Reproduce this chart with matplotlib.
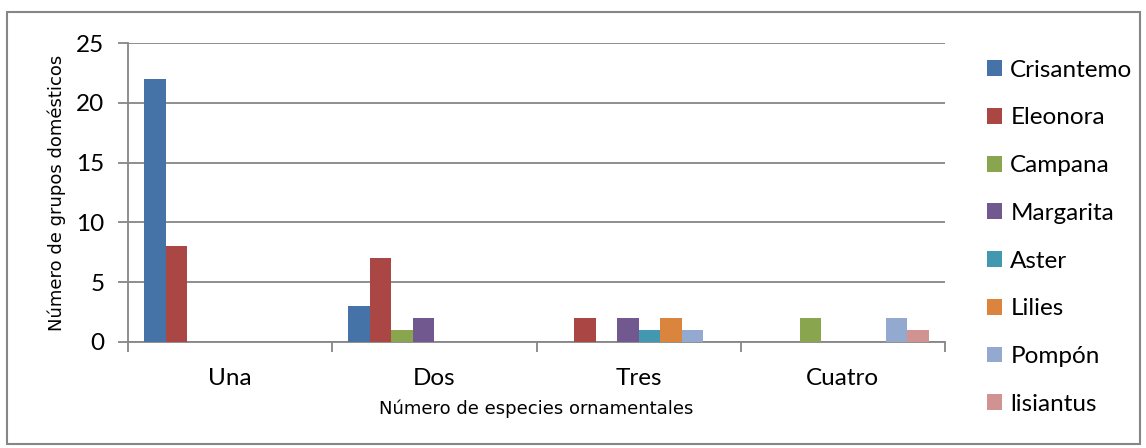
import matplotlib
matplotlib.use("Agg")
import matplotlib.pyplot as plt
import numpy as np
from matplotlib.patches import Rectangle

categories = ["Una", "Dos", "Tres", "Cuatro"]
series = ["Crisantemo", "Eleonora", "Campana", "Margarita",
          "Aster", "Lilies", "Pompón", "lisiantus"]
crisantemo = [22, 3, 0, 0]
eleonora = [8, 7, 2, 0]
campana = [0, 1, 0, 2]
margarita = [0, 2, 2, 0]
aster = [0, 0, 1, 0]
lilies = [0, 0, 2, 0]
pompon = [0, 0, 1, 2]
lisiantus = [0, 0, 0, 1]
values = [crisantemo, eleonora, campana, margarita, aster, lilies, pompon, lisiantus]
colors = ["#4572A7", "#AA4643", "#89A54E", "#71588F",
          "#4198AF", "#DB843D", "#93A9CF", "#D19392"]

grid_c = "#868686"
tick_font = "Lato"
label_font = "DejaVu Sans"

fig = plt.figure(figsize=(11.46, 4.48), dpi=100)
ax = fig.add_axes([128 / 1146, 1 - 342 / 448, 817 / 1146, 299 / 448])

n = len(series)
w = 1 / (n + 1.5)
x = np.arange(len(categories))
for i, (name, vals, c) in enumerate(zip(series, values, colors)):
    ax.bar(x + (i - (n - 1) / 2) * w, vals, width=w, color=c, label=name, zorder=3)

ax.set_xlim(-0.5, len(categories) - 0.5)
ax.set_ylim(0, 25)
ax.set_yticks(range(0, 26, 5))
ax.yaxis.grid(True, color=grid_c, linewidth=1.3, zorder=0)
for s in ["top", "right"]:
    ax.spines[s].set_visible(False)
for s in ["left", "bottom"]:
    ax.spines[s].set_color(grid_c)
    ax.spines[s].set_linewidth(1.3)

ax.set_xticks(x)
ax.set_xticklabels(categories, fontsize=17.5, family=tick_font)
ax.set_xticks(np.arange(-0.5, len(categories)), minor=True)
ax.tick_params(axis="x", which="major", length=0, pad=19)
ax.tick_params(axis="x", which="minor", length=7, width=1.3, color=grid_c)
ax.tick_params(axis="y", length=7, width=1.3, color=grid_c, pad=10)
for t in ax.get_yticklabels():
    t.set_fontsize(17.5)
    t.set_family(tick_font)

ax.set_xlabel("Número de especies ornamentales", fontsize=13,
              family=label_font, labelpad=7)
ax.set_ylabel("Número de grupos domésticos", fontsize=13,
              family=label_font, labelpad=7)

fig.legend(loc="upper left", bbox_to_anchor=(977 / 1146, 1 - 50 / 448),
           frameon=False, prop={"family": tick_font, "size": 17.5},
           handlelength=0.62, handleheight=0.62, handletextpad=0.35,
           labelspacing=1.1, borderaxespad=0)

fig.patches.append(Rectangle((7 / 1146, 4 / 448), 1133 / 1146, 432 / 448,
                             transform=fig.transFigure, fill=False,
                             edgecolor=grid_c, linewidth=1.5))

fig.savefig("out.png", dpi=100)
